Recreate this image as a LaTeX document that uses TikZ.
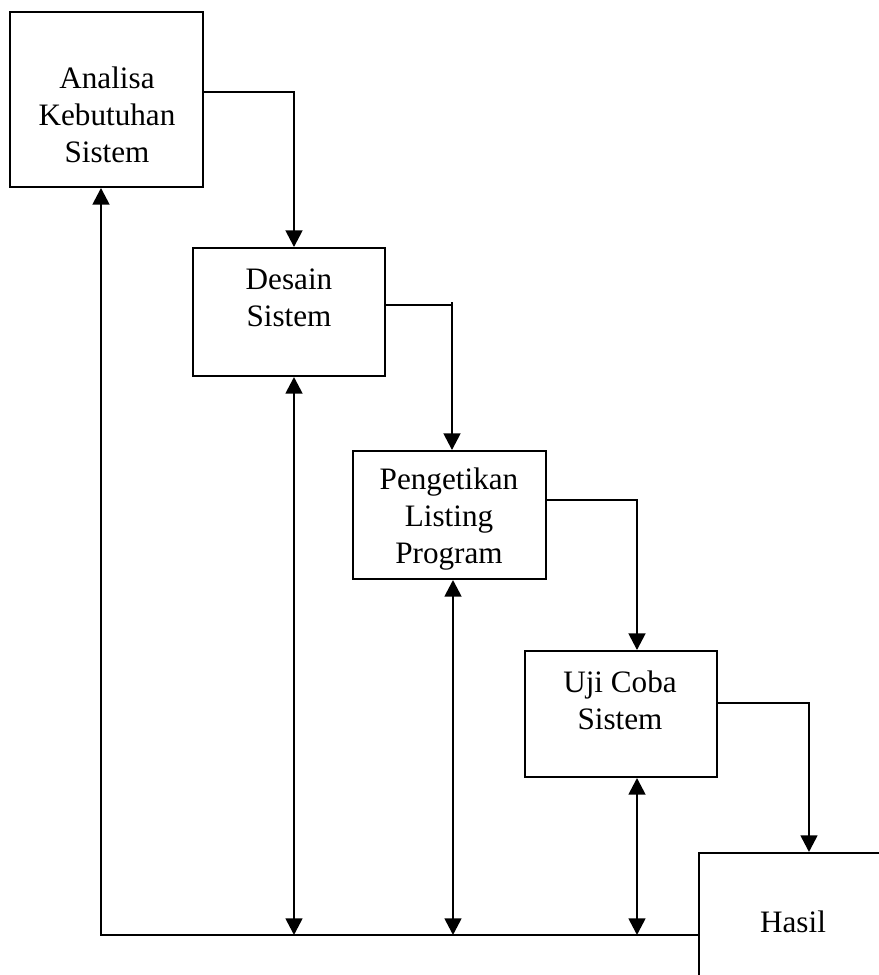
\documentclass[tikz,border=0pt]{standalone}
\usepackage{fontspec}
\setmainfont{Liberation Serif}
\usetikzlibrary{arrows.meta}

\tikzset{
  tahap/.style={draw, line width=1.1pt, inner sep=0pt},
  teks/.style={align=center, inner sep=0pt, font=\fontsize{17.75}{21}\selectfont},
  garis/.style={line width=1.5pt},
  alur/.style={garis, -{Triangle[length=9.5pt,width=9.5pt]}},
  balik/.style={garis, {Triangle[length=9.5pt,width=9.5pt]}-{Triangle[length=9.5pt,width=9.5pt]}},
}

\begin{document}
\begin{tikzpicture}[x=0.02cm, y=-0.02cm]
    \useasboundingbox (0,0) rectangle (879,975);

    % tahapan
    \node[tahap, minimum width=3.86cm, minimum height=3.5cm] (analisa) at (106.5,99.5) {};
    \node[tahap, minimum width=3.84cm, minimum height=2.56cm] (desain) at (289,312) {};
    \node[tahap, minimum width=3.86cm, minimum height=2.56cm] (pengetikan) at (449.5,515) {};
    \node[tahap, minimum width=3.84cm, minimum height=2.52cm] (uji) at (621,714) {};
    \node[tahap, minimum width=5cm, minimum height=4cm, anchor=north west] (hasil) at (698,852) {};

    \node[teks] (analisaT) at (107,115) {Analisa\\Kebutuhan\\Sistem};
    \node[teks] (desainT) at (289,298) {Desain\\Sistem};
    \node[teks] (pengetikanT) at (449,519) {Pengetikan\\Listing\\Program};
    \node[teks] (ujiT) at (620,700) {Uji Coba\\Sistem};
    \node[teks] (hasilT) at (793,922) {Hasil};

    % titik belok
    \coordinate (belok1) at (294,92);
    \coordinate (belok2) at (452,305);
    \coordinate (ujung2) at (452,302);
    \coordinate (belok3) at (637,500);
    \coordinate (belok4) at (809,703);
    \coordinate (bawah) at (101,935);
    \coordinate (jalur1) at (294,935);
    \coordinate (jalur2) at (453,935);
    \coordinate (jalur3) at (637,935);

    % alur maju
    \draw[alur] (analisa.east |- belok1) -- (belok1) -- (belok1 |- desain.north);
    \draw[garis] (desain.east |- belok2) -- (belok2);
    \draw[alur] (ujung2) -- (ujung2 |- pengetikan.north);
    \draw[alur] (pengetikan.east |- belok3) -- (belok3) -- (belok3 |- uji.north);
    \draw[alur] (uji.east |- belok4) -- (belok4) -- (belok4 |- hasil.north);

    % alur balik
    \draw[alur] (bawah -| hasil.west) -- (bawah) -- (bawah |- analisa.south);
    \draw[balik] (jalur1 |- desain.south) -- (jalur1);
    \draw[balik] (jalur2 |- pengetikan.south) -- (jalur2);
    \draw[balik] (jalur3 |- uji.south) -- (jalur3);
\end{tikzpicture}
\end{document}
